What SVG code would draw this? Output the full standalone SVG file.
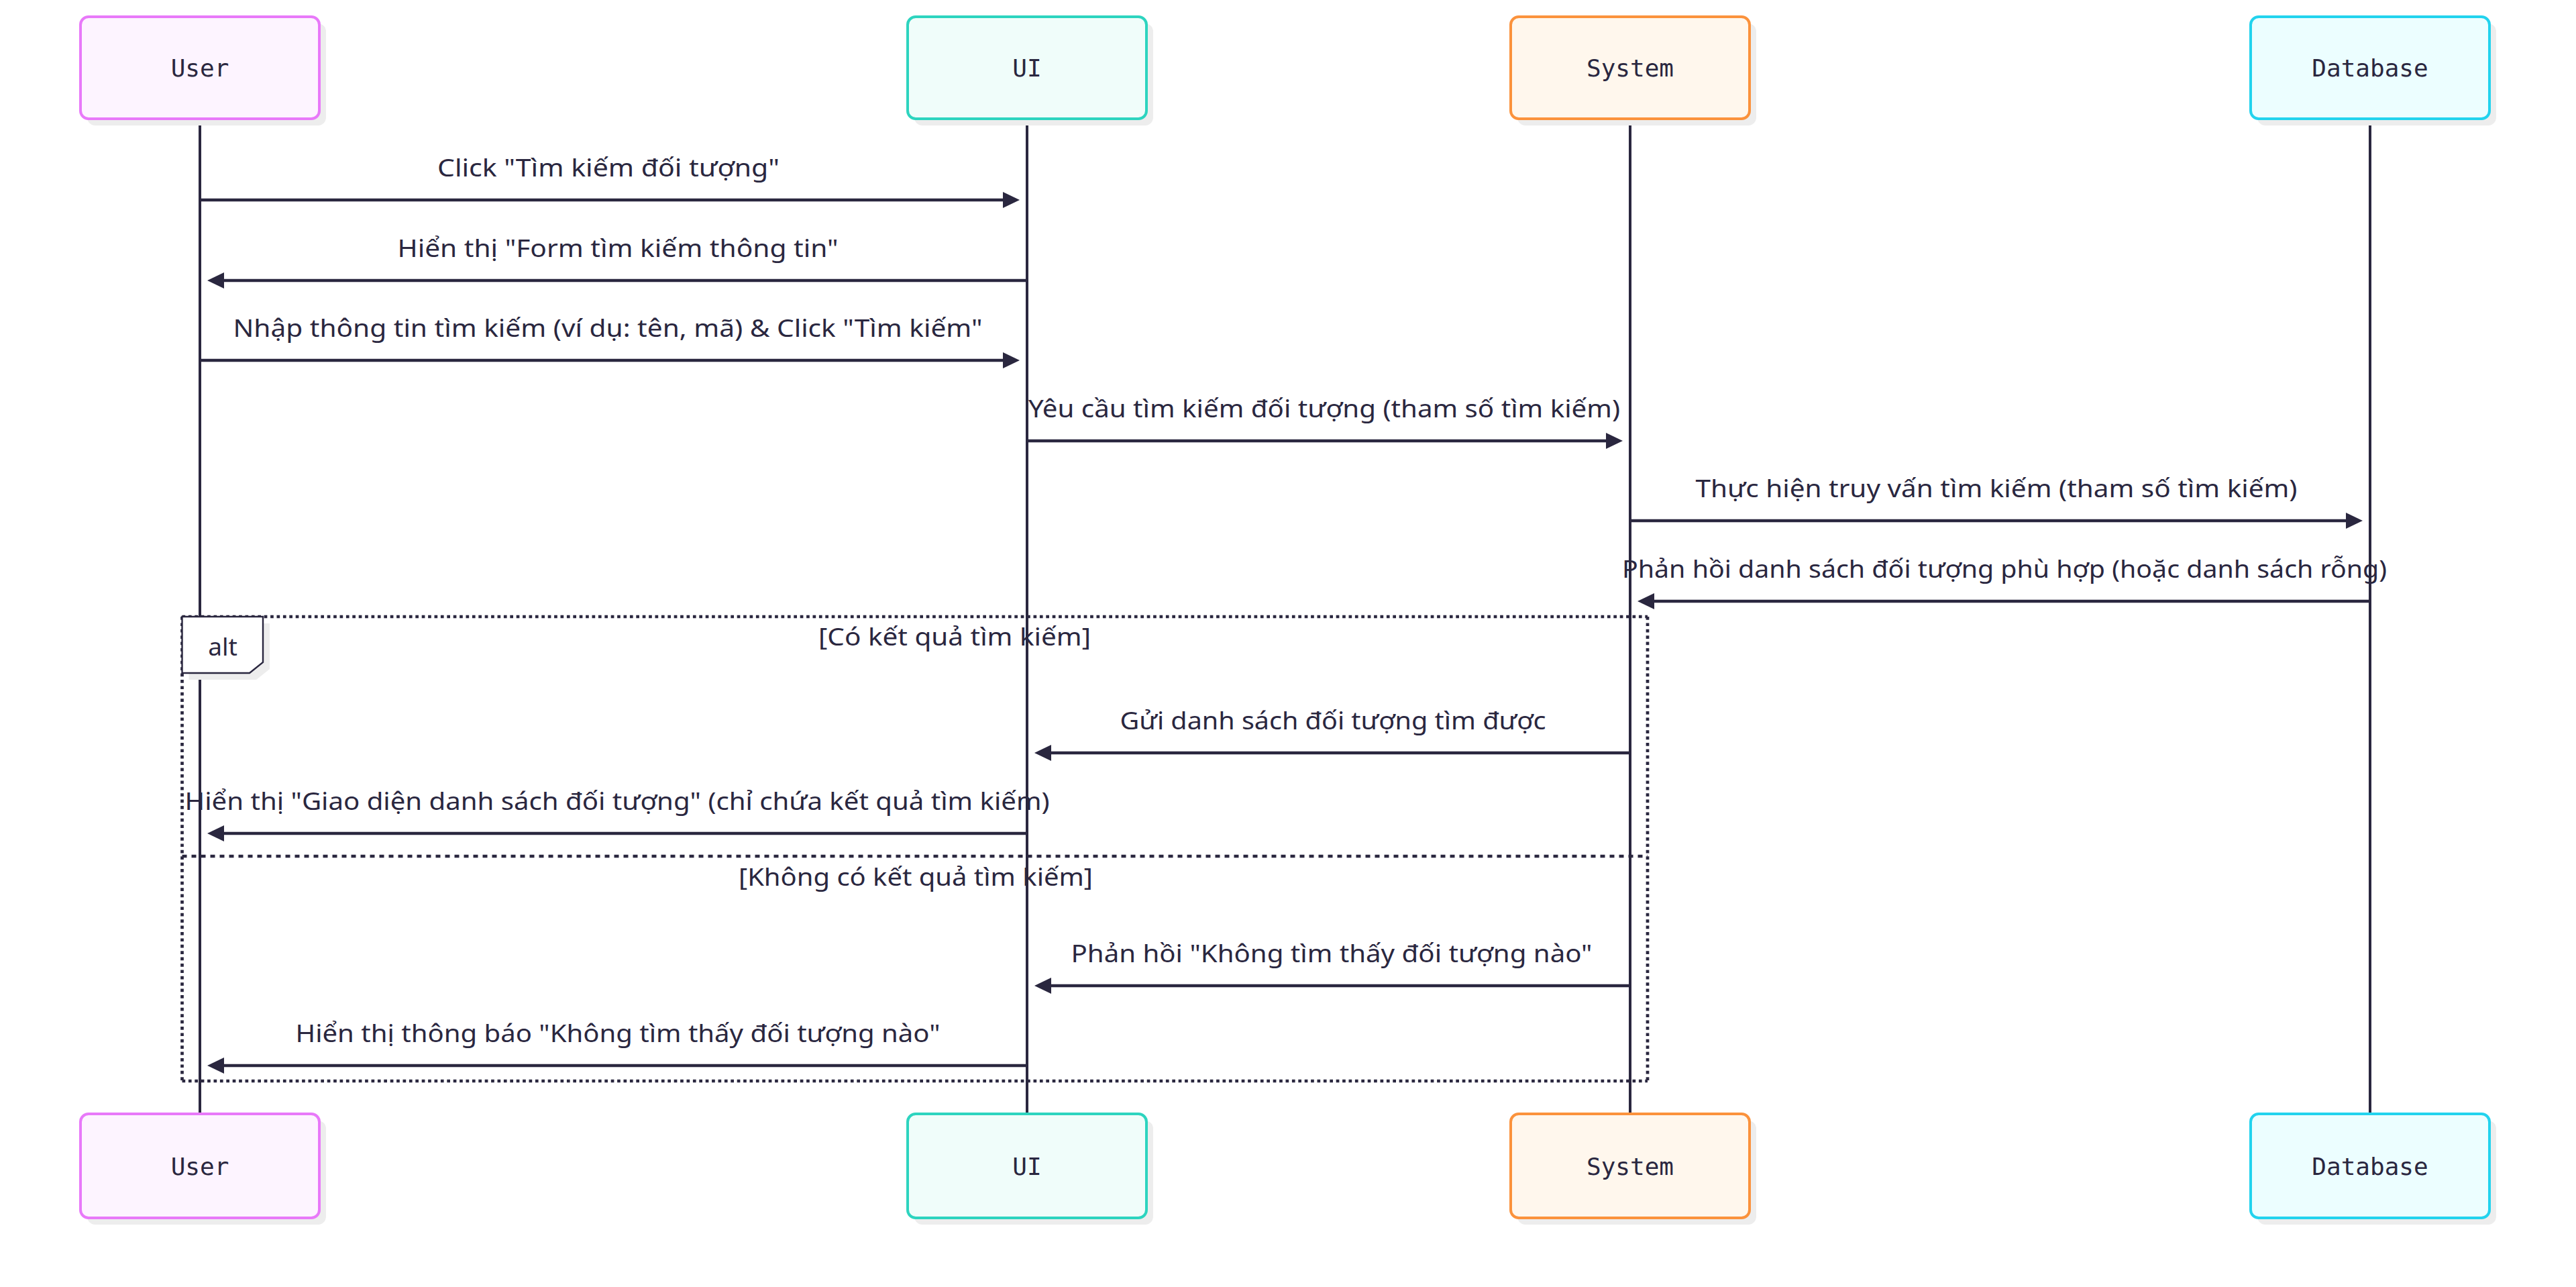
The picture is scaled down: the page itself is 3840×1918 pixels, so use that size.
<svg xmlns="http://www.w3.org/2000/svg" width="3840" height="1918" viewBox="0 0 3840 1918">
  <style>
    .shadow { fill: #ededed; }
    .actor-label { font-family: "DejaVu Sans Mono", "Liberation Mono", monospace; font-size: 36px; fill: #2a273f; text-anchor: middle; }
    .msg { font-family: "Noto Sans", "Liberation Sans", sans-serif; font-size: 37px; fill: #2a273f; text-anchor: middle; }
    .lifeline { stroke: #2a273f; stroke-width: 4; }
    .msg-line { stroke: #2a273f; stroke-width: 4.7; fill: none; marker-end: url(#arrowhead); }
    .loop-line { stroke: #2a273f; stroke-width: 4.7; stroke-dasharray: 4.7 4.7; fill: none; }
    .sep-line { stroke: #2a273f; stroke-width: 4.7; stroke-dasharray: 7 7; fill: none; }
    .user { fill: #fdf4ff; stroke: #e879f9; stroke-width: 4; }
    .ui { fill: #f0fdfa; stroke: #2dd4bf; stroke-width: 4; }
    .system { fill: #fff7ed; stroke: #fb923c; stroke-width: 4; }
    .database { fill: #ecfeff; stroke: #22d3ee; stroke-width: 4; }
  </style>
  <defs>
    <marker id="arrowhead" markerUnits="userSpaceOnUse" markerWidth="25" markerHeight="24" refX="13" refY="12" orient="auto">
      <path d="M0,0 L25,12 L0,24 z" fill="#2a273f"/>
    </marker>
  </defs>
  <rect width="3840" height="1918" fill="#ffffff"/>

  <!-- lifelines -->
  <g id="lifelines">
    <line class="lifeline" x1="298" y1="179" x2="298" y2="1658"/>
    <line class="lifeline" x1="1531" y1="179" x2="1531" y2="1658"/>
    <line class="lifeline" x1="2430" y1="179" x2="2430" y2="1658"/>
    <line class="lifeline" x1="3533" y1="179" x2="3533" y2="1658"/>
  </g>

  <!-- participants, top -->
  <g id="actor-user-top">
    <rect class="shadow" x="130" y="35" width="356" height="152" rx="12"/>
    <rect class="user" x="120" y="25" width="356" height="152" rx="12"/>
    <text class="actor-label" x="298" y="114">User</text>
  </g>
  <g id="actor-ui-top">
    <rect class="shadow" x="1363" y="35" width="356" height="152" rx="12"/>
    <rect class="ui" x="1353" y="25" width="356" height="152" rx="12"/>
    <text class="actor-label" x="1531" y="114">UI</text>
  </g>
  <g id="actor-system-top">
    <rect class="shadow" x="2262" y="35" width="356" height="152" rx="12"/>
    <rect class="system" x="2252" y="25" width="356" height="152" rx="12"/>
    <text class="actor-label" x="2430" y="114">System</text>
  </g>
  <g id="actor-database-top">
    <rect class="shadow" x="3365" y="35" width="356" height="152" rx="12"/>
    <rect class="database" x="3355" y="25" width="356" height="152" rx="12"/>
    <text class="actor-label" x="3533" y="114">Database</text>
  </g>

  <!-- alt fragment -->
  <g id="alt-fragment">
    <line class="loop-line" x1="271.5" y1="919" x2="2456" y2="919"/>
    <line class="loop-line" x1="2456" y1="919" x2="2456" y2="1611"/>
    <line class="loop-line" x1="271.5" y1="1611" x2="2456" y2="1611"/>
    <line class="loop-line" x1="271.5" y1="919" x2="271.5" y2="1611"/>
    <path d="M281.5,929 L402,929 L402,997 L382,1013 L281.5,1013 z" class="shadow"/>
    <path d="M271.5,919 L392,919 L392,987 L372,1003 L271.5,1003 z" fill="#ffffff" stroke="#2a273f" stroke-width="2.4"/>
    <text class="msg" x="332" y="977">alt</text>
    <text class="msg" x="1423" y="962" textLength="406" lengthAdjust="spacingAndGlyphs">[Có kết quả tìm kiếm]</text>
    <line class="sep-line" x1="271.5" y1="1276" x2="2456" y2="1276"/>
    <text class="msg" x="1365" y="1320" textLength="528" lengthAdjust="spacingAndGlyphs">[Không có kết quả tìm kiếm]</text>
  </g>

  <!-- messages -->
  <g id="messages">
    <line class="msg-line" x1="298" y1="298" x2="1508" y2="298"/>
    <text class="msg" x="907" y="263" textLength="510" lengthAdjust="spacingAndGlyphs">Click "Tìm kiếm đối tượng"</text>

    <line class="msg-line" x1="1531" y1="418" x2="321" y2="418"/>
    <text class="msg" x="921" y="383" textLength="657" lengthAdjust="spacingAndGlyphs">Hiển thị "Form tìm kiếm thông tin"</text>

    <line class="msg-line" x1="298" y1="537" x2="1508" y2="537"/>
    <text class="msg" x="906" y="502" textLength="1117" lengthAdjust="spacingAndGlyphs">Nhập thông tin tìm kiếm (ví dụ: tên, mã) &amp; Click "Tìm kiếm"</text>

    <line class="msg-line" x1="1531" y1="657" x2="2407" y2="657"/>
    <text class="msg" x="1974" y="622" textLength="882" lengthAdjust="spacingAndGlyphs">Yêu cầu tìm kiếm đối tượng (tham số tìm kiếm)</text>

    <line class="msg-line" x1="2430" y1="776" x2="3510" y2="776"/>
    <text class="msg" x="2976" y="741" textLength="897" lengthAdjust="spacingAndGlyphs">Thực hiện truy vấn tìm kiếm (tham số tìm kiếm)</text>

    <line class="msg-line" x1="3533" y1="896" x2="2453" y2="896"/>
    <text class="msg" x="2988" y="861" textLength="1140" lengthAdjust="spacingAndGlyphs">Phản hồi danh sách đối tượng phù hợp (hoặc danh sách rỗng)</text>

    <line class="msg-line" x1="2430" y1="1122" x2="1554" y2="1122"/>
    <text class="msg" x="1987" y="1087" textLength="635" lengthAdjust="spacingAndGlyphs">Gửi danh sách đối tượng tìm được</text>

    <line class="msg-line" x1="1531" y1="1242" x2="321" y2="1242"/>
    <text class="msg" x="920" y="1207" textLength="1289" lengthAdjust="spacingAndGlyphs">Hiển thị "Giao diện danh sách đối tượng" (chỉ chứa kết quả tìm kiếm)</text>

    <line class="msg-line" x1="2430" y1="1469" x2="1554" y2="1469"/>
    <text class="msg" x="1985" y="1434" textLength="777" lengthAdjust="spacingAndGlyphs">Phản hồi "Không tìm thấy đối tượng nào"</text>

    <line class="msg-line" x1="1531" y1="1588" x2="321" y2="1588"/>
    <text class="msg" x="921" y="1553" textLength="961" lengthAdjust="spacingAndGlyphs">Hiển thị thông báo "Không tìm thấy đối tượng nào"</text>
  </g>

  <!-- participants, bottom -->
  <g id="actor-user-bottom">
    <rect class="shadow" x="130" y="1670" width="356" height="155" rx="12"/>
    <rect class="user" x="120" y="1660" width="356" height="155" rx="12"/>
    <text class="actor-label" x="298" y="1751">User</text>
  </g>
  <g id="actor-ui-bottom">
    <rect class="shadow" x="1363" y="1670" width="356" height="155" rx="12"/>
    <rect class="ui" x="1353" y="1660" width="356" height="155" rx="12"/>
    <text class="actor-label" x="1531" y="1751">UI</text>
  </g>
  <g id="actor-system-bottom">
    <rect class="shadow" x="2262" y="1670" width="356" height="155" rx="12"/>
    <rect class="system" x="2252" y="1660" width="356" height="155" rx="12"/>
    <text class="actor-label" x="2430" y="1751">System</text>
  </g>
  <g id="actor-database-bottom">
    <rect class="shadow" x="3365" y="1670" width="356" height="155" rx="12"/>
    <rect class="database" x="3355" y="1660" width="356" height="155" rx="12"/>
    <text class="actor-label" x="3533" y="1751">Database</text>
  </g>
</svg>
